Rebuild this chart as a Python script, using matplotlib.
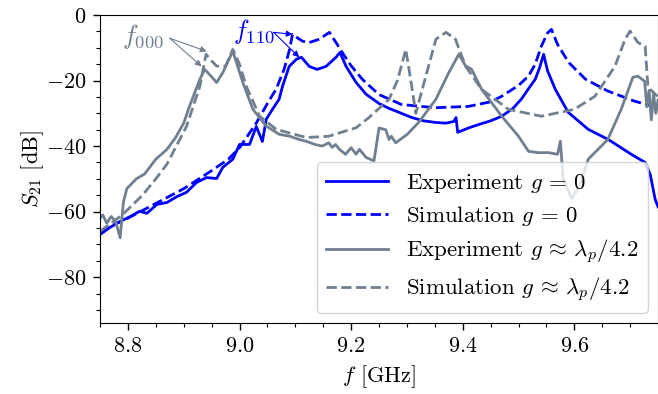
import matplotlib
matplotlib.use("Agg")
import matplotlib.pyplot as plt
from matplotlib.ticker import MultipleLocator

plt.rcParams["font.family"] = "serif"
plt.rcParams["font.serif"] = ["cmr10"]
plt.rcParams["mathtext.fontset"] = "cm"
plt.rcParams["axes.formatter.use_mathtext"] = True
plt.rcParams["font.size"] = 16

BLUE = "blue"
GRAY = "slategray"

# Experiment g = 0
f_exp0 = [8.750, 8.768, 8.786, 8.804, 8.821, 8.834, 8.852, 8.870, 8.888, 8.905, 8.923, 8.941,
          8.959, 8.970, 8.988, 9.000, 9.018, 9.030, 9.041, 9.048, 9.059, 9.071, 9.077, 9.089,
          9.102, 9.111, 9.125, 9.139, 9.155, 9.173, 9.180, 9.191, 9.209, 9.227, 9.250, 9.268,
          9.290, 9.309, 9.330, 9.352, 9.370, 9.384, 9.388, 9.391, 9.410, 9.429, 9.450, 9.470,
          9.490, 9.505, 9.520, 9.530, 9.538, 9.545, 9.552, 9.566, 9.589, 9.625, 9.661, 9.702,
          9.727, 9.736, 9.745, 9.750]
s_exp0 = [-67.0, -64.8, -63.0, -61.5, -59.9, -60.5, -57.8, -57.2, -55.4, -54.1, -51.1, -49.6,
          -49.9, -46.5, -44.0, -39.5, -39.5, -34.0, -38.6, -31.8, -28.8, -25.7, -21.8, -15.7,
          -13.5, -12.9, -15.7, -16.6, -15.7, -12.9, -11.4, -15.7, -20.6, -24.2, -27.0, -28.5,
          -30.0, -31.3, -32.3, -32.8, -33.0, -32.5, -31.3, -35.8, -34.5, -33.4, -32.3, -30.9,
          -28.5, -25.7, -22.0, -19.6, -16.0, -12.0, -17.0, -22.7, -29.7, -34.9, -38.0, -42.5,
          -45.0, -48.6, -56.3, -58.5]

# Simulation g = 0
f_sim0 = [8.750, 8.800, 8.850, 8.900, 8.950, 8.980, 9.000, 9.030, 9.050, 9.066, 9.080, 9.089,
          9.095, 9.104, 9.113, 9.125, 9.143, 9.161, 9.173, 9.184, 9.200, 9.220, 9.250, 9.290,
          9.350, 9.410, 9.450, 9.470, 9.500, 9.518, 9.530, 9.541, 9.552, 9.559, 9.570, 9.590,
          9.620, 9.660, 9.708, 9.750]
s_sim0 = [-66.0, -62.0, -57.5, -53.0, -47.5, -44.0, -40.5, -33.0, -27.0, -22.5, -16.5, -11.0,
          -5.9, -7.0, -8.0, -8.4, -7.4, -5.3, -8.4, -11.4, -15.5, -19.6, -24.3, -27.3,
          -28.3, -27.9, -26.5, -24.8, -21.5, -18.6, -15.0, -9.5, -5.5, -4.4, -9.0, -14.5,
          -19.6, -23.2, -26.3, -28.3]

# Experiment g ~ lambda_p / 4.2
f_expg = [8.750, 8.755, 8.762, 8.770, 8.778, 8.786, 8.792, 8.798, 8.815, 8.830, 8.850, 8.870,
          8.885, 8.900, 8.910, 8.929, 8.9375, 8.948, 8.959, 8.970, 8.988, 9.006, 9.024, 9.048,
          9.071, 9.090, 9.107, 9.119, 9.135, 9.148, 9.160, 9.166, 9.172, 9.179, 9.190, 9.200,
          9.209, 9.215, 9.227, 9.241, 9.250, 9.262, 9.268, 9.272, 9.280, 9.300, 9.321, 9.352,
          9.375, 9.393, 9.405, 9.416, 9.434, 9.470, 9.500, 9.518, 9.535, 9.554, 9.570, 9.575,
          9.580, 9.595, 9.610, 9.625, 9.660, 9.684, 9.705, 9.714, 9.726, 9.730, 9.734, 9.738,
          9.742, 9.746, 9.750]
s_expg = [-62.0, -61.0, -63.5, -61.5, -63.0, -68.0, -57.0, -53.0, -50.0, -48.5, -44.0, -41.0,
          -37.5, -33.0, -28.0, -19.6, -16.6, -18.5, -20.6, -17.6, -11.0, -20.6, -28.8, -33.9,
          -36.4, -37.0, -38.0, -38.5, -39.5, -40.0, -39.0, -40.4, -39.5, -41.0, -42.5, -40.5,
          -42.5, -41.0, -43.5, -44.5, -34.5, -35.0, -38.0, -37.0, -39.0, -36.5, -32.8, -25.7,
          -17.6, -12.0, -15.5, -16.6, -22.7, -30.9, -37.0, -41.6, -42.0, -42.0, -42.5, -38.5,
          -50.0, -56.0, -52.0, -44.0, -38.0, -28.8, -19.0, -18.7, -20.2, -28.0, -23.0, -32.0,
          -24.0, -30.0, -26.0]

# Simulation g ~ lambda_p / 4.2
f_simg = [8.750, 8.790, 8.826, 8.850, 8.870, 8.905, 8.929, 8.940, 8.950, 8.959, 8.975, 8.988,
          9.000, 9.012, 9.036, 9.066, 9.120, 9.160, 9.209, 9.232, 9.250, 9.268, 9.283, 9.290,
          9.298, 9.307, 9.316, 9.334, 9.352, 9.370, 9.387, 9.405, 9.434, 9.482, 9.541, 9.600,
          9.637, 9.673, 9.691, 9.700, 9.714, 9.727, 9.732, 9.750]
s_simg = [-66.0, -61.0, -55.0, -50.0, -45.5, -34.0, -21.7, -12.0, -14.0, -15.6, -15.6, -10.5,
          -15.0, -21.7, -30.9, -34.9, -37.4, -37.0, -34.4, -31.3, -28.5, -25.7, -20.0, -15.6,
          -10.5, -20.0, -30.0, -18.6, -7.4, -5.3, -7.4, -15.6, -22.7, -28.8, -30.9, -28.8,
          -24.8, -15.6, -7.4, -4.9, -8.4, -9.5, -22.0, -25.0]

labels = [r"Experiment $g\,=\,0$", r"Simulation $g\,=\,0$",
          r"Experiment $g\,\approx\,\lambda_p/4.2$", r"Simulation $g\,\approx\,\lambda_p/4.2$"]

# resonance peaks pointed at by the arrows
f000_peaks = [(8.941, -11.1), (8.932, -15.7)]
f110_peaks = [(9.095, -5.9), (9.107, -12.9)]

fig = plt.figure(figsize=(6.58, 3.94), dpi=100)
ax = fig.add_axes([0.152, 0.180, 0.848, 0.782])

ax.plot(f_exp0, s_exp0, color=BLUE, lw=2, label=labels[0])
ax.plot(f_sim0, s_sim0, color=BLUE, lw=2, ls="--", label=labels[1])
ax.plot(f_expg, s_expg, color=GRAY, lw=2, label=labels[2])
ax.plot(f_simg, s_simg, color=GRAY, lw=2, ls="--", label=labels[3])

ax.set_xlim(8.75, 9.75)
ax.set_ylim(-94, 0)
ax.xaxis.set_major_locator(MultipleLocator(0.2))
ax.xaxis.set_minor_locator(MultipleLocator(0.05))
ax.yaxis.set_major_locator(MultipleLocator(20))
ax.yaxis.set_minor_locator(MultipleLocator(5))
ax.xaxis.set_major_formatter(plt.FuncFormatter(lambda v, p: r"$%.1f$" % v))
ax.tick_params(which="major", length=5, width=1, pad=5, labelsize=16)
ax.tick_params(which="minor", length=3, width=0.8)

ax.set_xlabel(r"$f$ [GHz]", fontsize=16, labelpad=5)
ax.set_ylabel(r"$S_{21}$ [dB]", fontsize=16, labelpad=0)

ax.text(8.789, -9.0, r"$f_{000}$", color=GRAY, fontsize=19, ha="left", va="baseline")
for pk in f000_peaks:
    ax.annotate("", xy=pk, xytext=(8.875, -7.1),
                arrowprops=dict(arrowstyle="-|>", color=GRAY, lw=0.8, mutation_scale=9,
                                shrinkA=0, shrinkB=0))

ax.text(8.9875, -7.4, r"$f_{110}$", color=BLUE, fontsize=19, ha="left", va="baseline")
for pk in f110_peaks:
    ax.annotate("", xy=pk, xytext=(9.061, -5.3),
                arrowprops=dict(arrowstyle="-|>", color=BLUE, lw=0.8, mutation_scale=9,
                                shrinkA=0, shrinkB=0))

ax.legend(loc="lower right", fontsize=16.5, handlelength=2.7, labelspacing=0.42,
          borderaxespad=0.45)

plt.savefig("out.png", dpi=100)
